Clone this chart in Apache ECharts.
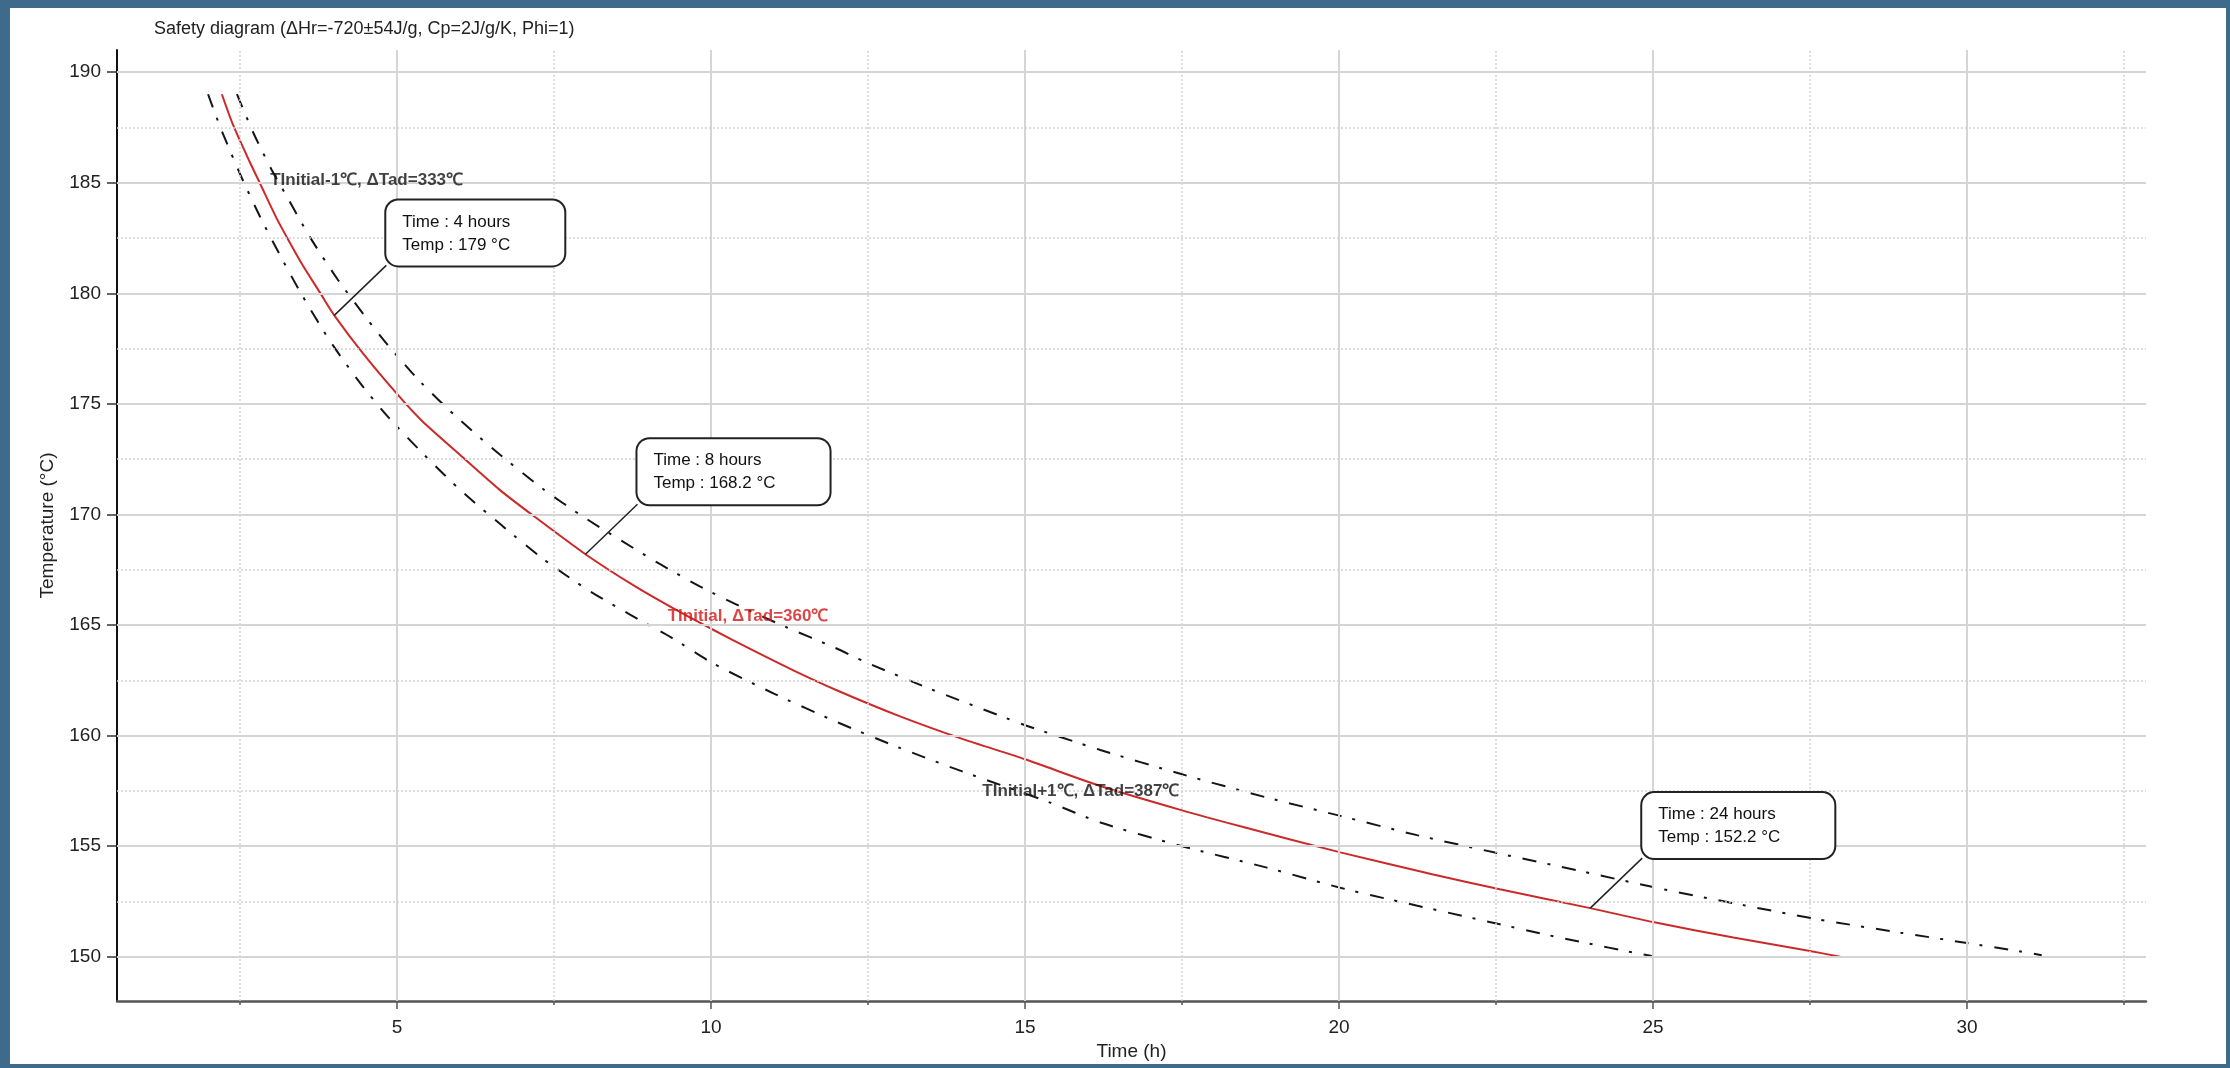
<!DOCTYPE html>
<html>
<head>
<meta charset="utf-8">
<script src="https://cdn.jsdelivr.net/npm/echarts@6/dist/echarts.min.js"></script>
<style>
  html, body { margin: 0; padding: 0; background: #ffffff; }
  #chart { width: 2230px; height: 1068px; }
</style>
</head>
<body>
<div id="chart"></div>
<script>
// Time to maximum rate (h) against start temperature (°C)
// Nominal case: TInitial, ΔTad = 360 °C
const timeNominal = [2.21, 2.39, 2.66, 2.82, 3.08, 3.30, 3.48, 3.77, 4.0, 4.46, 5.02, 5.39, 6.0, 6.64, 7.17, 8.0, 8.76, 9.40, 10.01, 10.67, 11.31, 12.0, 13.0, 14.0, 15.0, 16.2, 17.5, 18.43, 20.02, 21.5, 22.56, 24.0, 25.0, 26.28, 27.5, 27.98];
const tempNominal = [189.0, 187.6, 185.9, 184.95, 183.4, 182.25, 181.35, 180.04, 179.0, 177.27, 175.38, 174.25, 172.7, 171.1, 169.94, 168.2, 166.8, 165.75, 164.82, 163.85, 162.95, 162.05, 160.88, 159.85, 158.93, 157.72, 156.62, 155.9, 154.72, 153.72, 153.05, 152.2, 151.57, 150.87, 150.26, 150.0];

// TInitial - 1 °C, ΔTad = 333 °C
const timeMinus = [2.45, 2.72, 3.0, 3.27, 3.61, 4.06, 4.52, 4.84, 5.37, 5.95, 6.64, 7.33, 7.94, 8.55, 9.19, 9.82, 10.46, 11.2, 11.95, 12.48, 13.5, 14.6, 15.0, 16.2, 17.5, 18.85, 20.02, 21.24, 22.5, 23.84, 25.0, 26.28, 27.61, 28.94, 30.0, 30.85, 31.19];
const tempMinus = [189.0, 187.2, 185.6, 184.25, 182.55, 180.6, 178.85, 177.7, 176.0, 174.4, 172.7, 171.14, 169.94, 168.85, 167.75, 166.75, 165.85, 164.9, 164.0, 163.3, 162.1, 160.9, 160.47, 159.35, 158.25, 157.2, 156.37, 155.5, 154.7, 153.88, 153.15, 152.42, 151.7, 151.09, 150.62, 150.24, 150.07];

// TInitial + 1 °C, ΔTad = 387 °C
const timePlus = [1.99, 2.2, 2.53, 2.82, 3.14, 3.48, 3.93, 4.41, 4.86, 5.5, 6.0, 6.69, 7.33, 8.02, 8.71, 9.40, 10.01, 11.0, 12.0, 13.0, 14.0, 15.4, 16.2, 17.5, 18.85, 20.02, 20.76, 22.56, 23.26, 23.9, 24.69, 24.98];
const tempPlus = [189.0, 187.4, 185.2, 183.45, 181.7, 179.95, 177.85, 175.95, 174.4, 172.5, 171.12, 169.45, 167.98, 166.62, 165.47, 164.38, 163.3, 161.9, 160.62, 159.45, 158.38, 156.97, 156.07, 155.0, 154.03, 153.12, 152.62, 151.47, 151.02, 150.64, 150.19, 150.04];

// Axis ticks
const xMajorTicks = [5, 10, 15, 20, 25, 30];
const xMinorTicks = [2.5, 7.5, 12.5, 17.5, 22.5, 27.5, 32.5];
const yMajorTicks = [150, 155, 160, 165, 170, 175, 180, 185, 190];
const yMinorTicks = [152.5, 157.5, 162.5, 167.5, 172.5, 177.5, 182.5, 187.5];

// Curve captions: anchor [time, temp] and text
const captionTexts = ['TInitial-1℃, ΔTad=333℃', 'TInitial, ΔTad=360℃', 'TInitial+1℃, ΔTad=387℃'];
const captionTimes = [2.98, 9.31, 14.32];
const captionTemps = [185.12, 165.41, 157.47];

// Read-out call-outs on the nominal curve
const calloutHours = [4, 8, 24];
const calloutTemps = [179, 168.2, 152.2];

const FONT = '"Liberation Sans", Arial, sans-serif';

function pairs(xs, ys) { return xs.map((x, i) => [x, ys[i]]); }

const gridLines = [].concat(
  xMajorTicks.map(v => ({ xAxis: v, lineStyle: { type: 'solid', color: '#d5d5d5', width: 2 } })),
  xMinorTicks.map(v => ({ xAxis: v, lineStyle: { type: [2, 2], color: '#d2d2d2', width: 1.5 } })),
  yMajorTicks.map(v => ({ yAxis: v, lineStyle: { type: 'solid', color: '#d5d5d5', width: 2 } })),
  yMinorTicks.map(v => ({ yAxis: v, lineStyle: { type: [2, 2], color: '#d2d2d2', width: 1.5 } }))
);

const dashDot = [14, 11, 3, 12];

const chart = echarts.init(document.getElementById('chart'), null, { renderer: 'canvas' });

const curveCommon = { type: 'line', smooth: 0.25, showSymbol: false };

const option = {
  animation: false,
  backgroundColor: '#ffffff',
  title: {
    text: 'Safety diagram (ΔHr=-720±54J/g, Cp=2J/g/K, Phi=1)',
    left: 154, top: 20, padding: 0,
    textStyle: { fontFamily: FONT, fontSize: 18, fontWeight: 'normal', color: '#222' }
  },
  grid: { left: 117, right: 84, top: 50, bottom: 67, containLabel: false },
  xAxis: [{
    type: 'value', min: 0.54, max: 32.85,
    name: 'Time (h)', nameLocation: 'middle', nameGap: 38,
    nameTextStyle: { fontFamily: FONT, fontSize: 19, color: '#222' },
    axisLine: { show: true, lineStyle: { color: '#555', width: 2.5 } },
    axisTick: { show: true, length: 8, customValues: xMajorTicks, lineStyle: { color: '#555', width: 1.5 } },
    axisLabel: { customValues: xMajorTicks, fontFamily: FONT, fontSize: 19, color: '#222', margin: 17 },
    splitLine: { show: false }
  }, {
    type: 'value', min: 0.54, max: 32.85, position: 'bottom',
    axisLine: { show: false },
    axisTick: { show: true, length: 4, customValues: xMinorTicks, lineStyle: { color: '#555', width: 1.5 } },
    axisLabel: { show: false, customValues: xMinorTicks },
    splitLine: { show: false }
  }],
  yAxis: {
    type: 'value', min: 148, max: 191,
    name: 'Temperature (°C)', nameLocation: 'middle', nameGap: 60, nameRotate: 90,
    nameTextStyle: { fontFamily: FONT, fontSize: 19, color: '#222' },
    axisLine: { show: true, lineStyle: { color: '#111', width: 2 } },
    axisTick: { show: true, length: 10, customValues: yMajorTicks, lineStyle: { color: '#333', width: 1.5 } },
    axisLabel: { customValues: yMajorTicks, fontFamily: FONT, fontSize: 19, color: '#222', margin: 16 },
    splitLine: { show: false }
  },
  series: [
    {
      name: 'grid', type: 'line', data: [], z: 1, silent: true,
      markLine: { silent: true, symbol: ['none', 'none'], label: { show: false }, animation: false, data: gridLines }
    },
    Object.assign({}, curveCommon, {
      name: 'TInitial-1', data: pairs(timeMinus, tempMinus), z: 3,
      lineStyle: { color: '#151515', width: 2, type: dashDot }
    }),
    Object.assign({}, curveCommon, {
      name: 'TInitial+1', data: pairs(timePlus, tempPlus), z: 3,
      lineStyle: { color: '#151515', width: 2, type: dashDot }
    }),
    Object.assign({}, curveCommon, {
      name: 'TInitial', data: pairs(timeNominal, tempNominal), z: 4,
      lineStyle: { color: '#cc2a2a', width: 2 }
    }),
    {
      name: 'captions', type: 'scatter', z: 6, silent: true, symbolSize: 0,
      data: captionTexts.map((t, i) => ({
        value: [captionTimes[i], captionTemps[i]],
        label: {
          show: true, formatter: t, position: 'right', distance: 0,
          fontFamily: FONT, fontSize: 17, fontWeight: 'bold',
          color: i === 1 ? '#d01818' : '#111111'
        }
      }))
    }
  ]
};

chart.setOption(option);

// Call-out boxes anchored to points on the nominal curve
const extra = [];
calloutHours.forEach((h, i) => {
  const p = chart.convertToPixel({ seriesIndex: 3 }, [h, calloutTemps[i]]);
  const bx = p[0] + 52, by = p[1] - 50;
  extra.push({
    type: 'line', z: 20, silent: true,
    shape: { x1: p[0], y1: p[1], x2: bx, y2: by },
    style: { stroke: '#222', lineWidth: 1.5 }
  });
  extra.push({
    type: 'text', z: 21, silent: true, x: bx, y: by,
    style: {
      text: 'Time : ' + h + ' hours\nTemp : ' + calloutTemps[i] + ' °C',
      fontFamily: FONT, fontSize: 17, fill: '#111', lineHeight: 23,
      align: 'left', verticalAlign: 'bottom',
      backgroundColor: '#ffffff', borderColor: '#222', borderWidth: 2, borderRadius: 12,
      padding: [10, 54, 9, 16]
    }
  });
});

// Window frame
const frame = '#3e6b8b';
extra.push(
  { type: 'rect', z: 30, silent: true, shape: { x: 0, y: 0, width: 2230, height: 8 }, style: { fill: frame } },
  { type: 'rect', z: 30, silent: true, shape: { x: 0, y: 0, width: 10, height: 1068 }, style: { fill: frame } },
  { type: 'rect', z: 30, silent: true, shape: { x: 2226, y: 0, width: 4, height: 1068 }, style: { fill: frame } },
  { type: 'rect', z: 30, silent: true, shape: { x: 0, y: 1064, width: 2230, height: 4 }, style: { fill: frame } }
);

chart.setOption({ graphic: extra });
</script>
</body>
</html>
